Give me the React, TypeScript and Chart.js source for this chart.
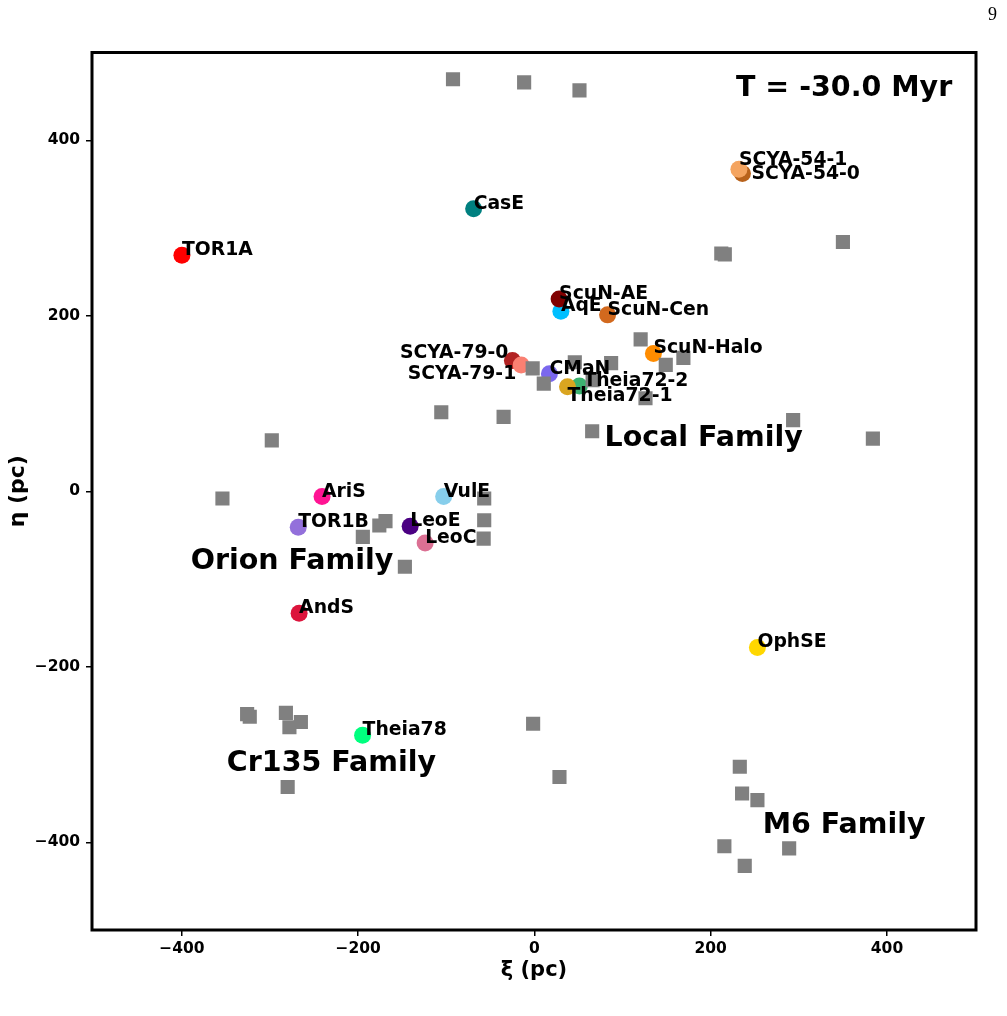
import React, { useEffect, useRef } from 'react';
import { Chart, registerables } from 'chart.js';

Chart.register(...registerables);

// Named groups (coloured circles)
const groupNames = [
  'TOR1A', 'CasE', 'SCYA-54-0', 'SCYA-54-1', 'AqE', 'ScuN-AE', 'ScuN-Cen', 'ScuN-Halo',
  'SCYA-79-0', 'SCYA-79-1', 'CMaN', 'Theia72-2', 'Theia72-1', 'VulE', 'AriS', 'TOR1B',
  'LeoE', 'LeoC', 'AndS', 'OphSE', 'Theia78',
];
const groupXi = [
  -400, -69, 236, 232, 30, 28, 83, 135,
  -25, -15, 17, 51, 37.5, -103, -241, -268,
  -141, -124, -267, 253, -195,
];
const groupEta = [
  269, 322, 362, 367, 205, 219, 201, 157,
  149, 144, 134, 120, 119, -6, -6, -41,
  -40, -59, -139, -178, -278,
];
const groupColors = [
  '#ff0000', '#008080', '#b8621b', '#f4a460', '#00bfff', '#800000', '#d2691e', '#ff8c00',
  '#b22222', '#fa8072', '#7b68ee', '#3cb371', '#daa520', '#87ceeb', '#ff1493', '#9370db',
  '#4b0082', '#db7093', '#dc143c', '#ffd700', '#00ff7f',
];

// Family members (grey squares)
const memberXi = [
  -92.4, -11.7, 51.1, 350, 212, 216, 120.5, 149, 169, 87, 126, 293.5, 384,
  45.8, -2, 10.6, -35, 65.5, 66, -298, -105.7, -354, -176, -169, -194.7, -147,
  -57, -57, -57.6, -326, -323, -282, -265, -278, -1.5, 28.4, -280,
  233, 235.6, 253, 215.5, 289, 238.6,
];
const memberEta = [
  469.5, 466, 456.8, 284, 271, 270, 173, 144, 152, 146, 106, 81, 60,
  147, 140, 122.7, 84.7, 68.4, 126.5, 58, 90, -8.3, -39, -34, -52, -86,
  -8.3, -33, -54, -254, -257, -252.6, -263, -269, -265, -325.6, -337,
  -314, -344.5, -352, -404.6, -407, -427,
];

const xTicks = [-400, -200, 0, 200, 400];
const yTicks = [-400, -200, 0, 200, 400];

const familyNames = ['Local Family', 'Orion Family', 'Cr135 Family', 'M6 Family'];
const familyXi = [79.5, -390, -349, 259];
const familyEta = [60.4, -79.8, -310, -380.6];

const timeLabel = 'T = -30.0 Myr';
const timeXi = 474;
const timeEta = 459;

// label placement tweaks (pixels)
const labelTweaks: Record<string, { align?: CanvasTextAlign; dx?: number; dy?: number }> = {
  'SCYA-54-0': { dx: 9, dy: 5 },
  'SCYA-54-1': { dy: -4 },
  'SCYA-79-0': { align: 'right', dx: -4, dy: -3 },
  'SCYA-79-1': { align: 'right', dx: -5, dy: 14 },
  'Theia72-1': { dy: 14 },
  'Theia72-2': { dx: 4 },
};

const FONT = '"DejaVu Sans", sans-serif';

const annotatePlugin = {
  id: 'annotate',
  afterDatasetsDraw(chart: any) {
    const ctx = chart.ctx as CanvasRenderingContext2D;
    const meta = chart.getDatasetMeta(1);
    const xs = chart.scales.x;
    const ys = chart.scales.y;
    ctx.save();
    ctx.fillStyle = '#000';
    ctx.font = `bold 18.8px ${FONT}`;
    ctx.textBaseline = 'alphabetic';
    meta.data.forEach((el: any, i: number) => {
      const name = groupNames[i];
      const t = labelTweaks[name] || {};
      ctx.textAlign = t.align || 'left';
      ctx.fillText(name, el.x + (t.dx || 0), el.y + (t.dy || 0));
    });
    ctx.font = `bold 28.5px ${FONT}`;
    ctx.textBaseline = 'middle';
    ctx.textAlign = 'left';
    familyNames.forEach((n, i) => {
      ctx.fillText(n, xs.getPixelForValue(familyXi[i]), ys.getPixelForValue(familyEta[i]));
    });
    ctx.textAlign = 'right';
    ctx.fillText(timeLabel, xs.getPixelForValue(timeXi), ys.getPixelForValue(timeEta));
    const { left, top, right, bottom } = chart.chartArea;
    ctx.lineWidth = 3;
    ctx.strokeStyle = '#000';
    ctx.strokeRect(left, top, right - left, bottom - top);
    ctx.restore();
  },
};

const fmt = (v: any) => String(v).replace('-', '\u2212');

export default function App() {
  const ref = useRef<HTMLCanvasElement>(null);
  useEffect(() => {
    if (!ref.current) return;
    Chart.defaults.font.family = FONT;
    const chart = new Chart(ref.current, {
      type: 'scatter',
      data: {
        datasets: [
          {
            label: 'members',
            data: memberXi.map((x, i) => ({ x, y: memberEta[i] })),
            pointStyle: 'rect',
            pointRadius: 10,
            pointBackgroundColor: '#808080',
            pointBorderWidth: 0,
            order: 0,
          },
          {
            label: 'groups',
            data: groupXi.map((x, i) => ({ x, y: groupEta[i] })),
            pointStyle: 'circle',
            pointRadius: 8.5,
            pointBackgroundColor: groupColors,
            pointBorderWidth: 0,
            order: 1,
          },
        ],
      },
      options: {
        animation: false,
        responsive: true,
        maintainAspectRatio: false,
        layout: { padding: { left: 0, top: 52.5, right: 31, bottom: 0 } },
        plugins: { legend: { display: false }, tooltip: { enabled: false } },
        scales: {
          x: {
            type: 'linear',
            min: -502,
            max: 501,
            afterFit: (s: any) => { s.height = 86; },
            afterBuildTicks: (s: any) => { s.ticks = xTicks.map((v) => ({ value: v })); },
            border: { display: false },
            grid: { drawOnChartArea: false, drawTicks: true, tickLength: 6, lineWidth: 1.5, color: '#000' },
            ticks: { callback: fmt, color: '#000', font: { size: 15.5, weight: 'bold' }, padding: 4, maxRotation: 0 },
            title: { display: true, text: 'ξ (pc)', color: '#000', font: { size: 21, weight: 'bold' }, padding: { top: 0, bottom: 33 } },
          },
          y: {
            type: 'linear',
            min: -500,
            max: 500,
            afterFit: (s: any) => { s.width = 92; },
            afterBuildTicks: (s: any) => { s.ticks = yTicks.map((v) => ({ value: v })); },
            border: { display: false },
            grid: { drawOnChartArea: false, drawTicks: true, tickLength: 6, lineWidth: 1.5, color: '#000' },
            ticks: { callback: fmt, color: '#000', font: { size: 15.5, weight: 'bold' }, padding: 6 },
            title: { display: true, text: 'η (pc)', color: '#000', font: { size: 22, weight: 'bold' }, padding: { top: 5, bottom: 0 } },
          },
        },
      },
      plugins: [annotatePlugin],
    });
    return () => chart.destroy();
  }, []);
  return (
    <div style={{ position: 'fixed', left: 0, top: 0, width: 1007, height: 1016, background: '#fff' }}>
      <canvas ref={ref} />
      <div style={{ position: 'absolute', left: 988, top: 4, fontSize: 18, fontFamily: '"Liberation Serif", serif' }}>9</div>
    </div>
  );
}
